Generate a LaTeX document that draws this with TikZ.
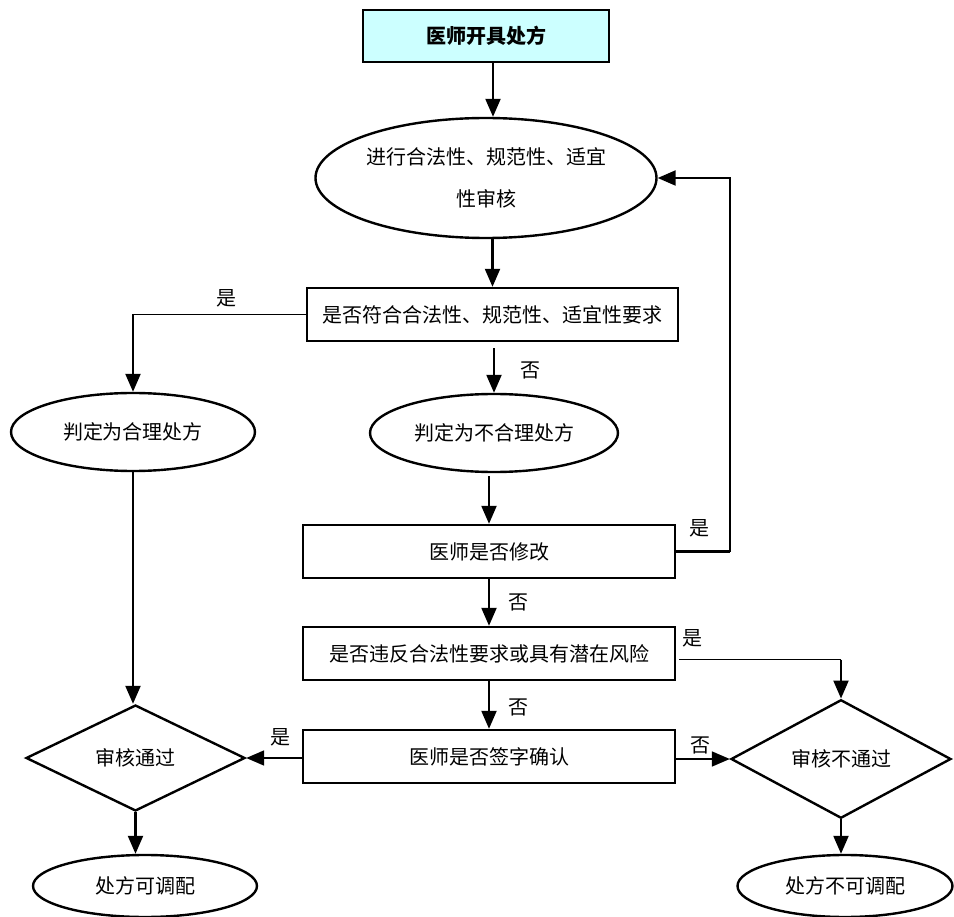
\documentclass[tikz,border=0pt]{standalone}
\usepackage{fontspec}
\setmainfont{Noto Sans CJK SC}
\usetikzlibrary{shapes.geometric,arrows.meta}
\definecolor{lightcyan}{RGB}{204,255,255}
\begin{document}
\begin{tikzpicture}[x=1pt,y=-1pt,
  font=\fontsize{20}{42}\selectfont,
  box/.style={draw,line width=2.4pt,rectangle,inner sep=0pt,minimum width=372pt,minimum height=53pt},
  oval/.style={draw,line width=2.4pt,ellipse,inner sep=0pt},
  dia/.style={draw,line width=2.4pt,diamond,inner sep=0pt},
  conn/.style={line width=2.2pt,-{Triangle[length=18pt,width=15pt]}},
  thin/.style={line width=1.4pt},
  lbl/.style={inner sep=0pt}]
\useasboundingbox (0,0) rectangle (954,917);
\node[box,fill=lightcyan,minimum width=246pt,minimum height=52pt,font=\fontsize{20}{22}\selectfont\bfseries] (start) at (486,36) {医师开具处方};
\node[oval,minimum width=341pt,minimum height=120pt,align=center] (e1) at (486,178) {进行合法性、规范性、适宜\\性审核};
\node[box,minimum width=371pt] (b2) at (492.5,314.5) {是否符合合法性、规范性、适宜性要求};
\node[oval,minimum width=244pt,minimum height=78pt] (e2) at (133,432) {判定为合理处方};
\node[oval,minimum width=248pt,minimum height=78pt] (e3) at (494,433) {判定为不合理处方};
\node[box] (b3) at (489,551.5) {医师是否修改};
\node[box] (b4) at (489,653.5) {是否违反合法性要求或具有潜在风险};
\node[box] (b5) at (489,756.5) {医师是否签字确认};
\node[dia,minimum width=219pt,minimum height=106pt] (d1) at (135.5,758) {审核通过};
\node[dia,minimum width=220pt,minimum height=104pt] (d2) at (841,759) {审核不通过};
\node[oval,minimum width=224pt,minimum height=62pt] (e4) at (145,886) {处方可调配};
\node[oval,minimum width=215pt,minimum height=62pt] (e5) at (845,886) {处方不可调配};
% connectors
\draw[conn] ([xshift=7pt]start.south) -- ([xshift=7pt]start.south |- e1.north);
\draw[conn] (e1.south -| b2.north) -- (b2.north);
\draw[thin] (b2.west) -| ([yshift=-4pt]e2.north |- b2.west) coordinate (c1);
\draw[conn] (e2.north |- b2.west) -- (e2.north);
\draw[conn,shorten <=6pt] (b2.south -| e3.north) -- (e3.north);
\draw[conn,shorten <=3pt] (e3.south -| b3.north) -- (b3.north);
\draw[line width=2.2pt] (b3.east) -- ++(54,0) coordinate (c2);
\draw[conn] (c2) |- (e1.east);
\draw[conn] (b3.south) -- (b4.north);
\draw[thin] (b4.east) ++(3,6) coordinate (c3) -- (c3 -| d2.north) coordinate (c4);
\draw[conn] (c4) -- (d2.north);
\draw[conn] (b4.south) -- (b5.north);
\draw[conn,line width=1.8pt] (b5.east |- d2.west) -- (d2.west);
\draw[conn,line width=1.8pt] (b5.west |- d1.east) -- (d1.east);
\draw[conn] (e2.south) -- (e2.south |- d1.north);
\draw[conn] (d1.south) -- (d1.south |- e4.north);
\draw[conn] (d2.south) -- (d2.south |- e5.north);
% labels
\node[lbl] (l1) at (226,298) {是};
\node[lbl] (l2) at (530,370) {否};
\node[lbl] (l3) at (699,528) {是};
\node[lbl] (l4) at (518,602) {否};
\node[lbl] (l5) at (692,638) {是};
\node[lbl] (l6) at (518,707) {否};
\node[lbl] (l7) at (700,745) {否};
\node[lbl] (l8) at (280,737) {是};
\end{tikzpicture}
\end{document}
